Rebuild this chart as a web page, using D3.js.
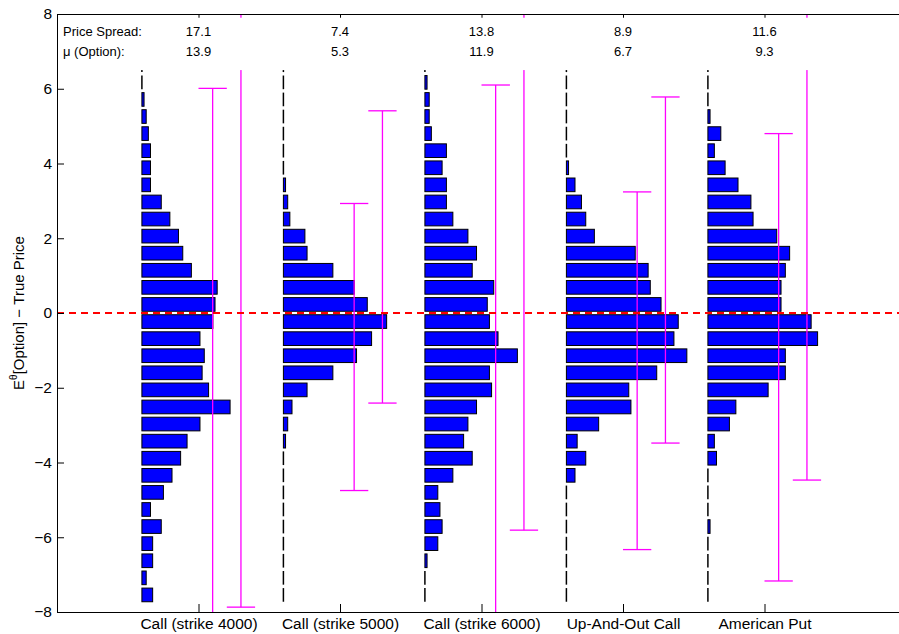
<!DOCTYPE html>
<html>
<head>
<meta charset="utf-8">
<script src="https://cdn.jsdelivr.net/npm/d3@7"></script>
<style>
  body { margin: 0; background: #fff; }
  text { font-family: 'Liberation Sans', Arial, sans-serif; }
</style>
</head>
<body>
<script>
// Categories (one histogram per option)
const groups = ['Call (strike 4000)', 'Call (strike 5000)', 'Call (strike 6000)', 'Up-And-Out Call', 'American Put']
const priceSpread = ['17.1', '7.4', '13.8', '8.9', '11.6']
const muOption = ['13.9', '5.3', '11.9', '6.7', '9.3']

// Histogram bin centers (top to bottom)
const binCenters = [6.629, 6.171, 5.714, 5.257, 4.800, 4.343, 3.886, 3.429, 2.971, 2.514,
  2.057, 1.600, 1.143, 0.686, 0.229, -0.229, -0.686, -1.143, -1.600, -2.057,
  -2.514, -2.971, -3.429, -3.886, -4.343, -4.800, -5.257, -5.714, -6.171, -6.629,
  -7.086, -7.543]
const binWidth = 0.4571

// Counts per bin for each option
const counts1 = [0, 0, 1, 2, 3, 4, 4, 4, 9, 13, 17, 19, 23, 35, 34, 33, 27, 29, 28, 31, 41, 27, 21, 18, 14, 10, 4, 9, 5, 5, 2, 5]
const counts2 = [0, 0, 0, 0, 0, 0, 0, 1, 2, 3, 10, 11, 23, 33, 39, 48, 41, 34, 23, 11, 4, 2, 1, 0, 0, 0, 0, 0, 0, 0, 0, 0]
const counts3 = [0, 1, 2, 2, 3, 10, 8, 10, 10, 13, 20, 24, 22, 32, 29, 30, 34, 43, 30, 31, 24, 20, 18, 22, 13, 6, 7, 8, 6, 1, 0, 0]
const counts4 = [0, 0, 0, 0, 0, 0, 1, 4, 7, 9, 13, 32, 38, 39, 44, 52, 50, 56, 42, 29, 30, 15, 5, 9, 4, 0, 0, 0, 0, 0, 0, 0]
const counts5 = [0, 0, 0, 1, 6, 3, 8, 14, 20, 21, 32, 38, 36, 34, 34, 48, 51, 36, 36, 28, 13, 10, 3, 4, 0, 0, 0, 1, 0, 0, 0, 0]
const allCounts = [counts1, counts2, counts3, counts4, counts5]

// Two ranges (low, high) per option, drawn as magenta error bars
const rangeA = [[-9, 6.01], [-4.75, 2.93], [-9, 6.10], [-6.33, 3.24], [-7.17, 4.80]]
const rangeB = [[-7.87, 9], [-2.41, 5.41], [-5.81, 9], [-3.48, 5.78], [-4.47, 9]]

const yTicks = [-8, -6, -4, -2, 0, 2, 4, 6, 8]

const width = 899
const height = 634

const svg = d3.select(document.body).append('svg')
  .attr('width', width)
  .attr('height', height)

const x = d3.scaleLinear().domain([0, 6]).range([57, 906])
const y = d3.scaleLinear().domain([-8, 8]).range([612, 14])
// bar length: counts -> x units
const len = d3.scaleLinear().domain([0, 100]).range([0, 1.52])

svg.append('defs').append('clipPath').attr('id', 'plot')
  .append('rect')
  .attr('x', x(0)).attr('y', y(8))
  .attr('width', x(6) - x(0)).attr('height', y(-8) - y(8))

const plot = svg.append('g').attr('clip-path', 'url(#plot)')

// Histogram bars (empty bins show as a bare edge)
allCounts.forEach((counts, gi) => {
  const base = gi + 1 - 0.4
  const bins = counts.map((c, i) => ({ c, center: binCenters[i] }))
  const g = plot.append('g')
  g.selectAll('rect')
    .data(bins.filter((d) => d.c > 0))
    .enter()
    .append('rect')
    .attr('x', x(base))
    .attr('y', (d) => y(d.center + binWidth * 0.4))
    .attr('width', (d) => x(base + len(d.c)) - x(base))
    .attr('height', (d) => y(d.center - binWidth * 0.4) - y(d.center + binWidth * 0.4))
    .attr('fill', '#0000ff')
    .attr('stroke', '#000')
    .attr('stroke-width', 1)
  g.selectAll('line')
    .data(bins.filter((d) => d.c === 0))
    .enter()
    .append('line')
    .attr('x1', x(base)).attr('x2', x(base))
    .attr('y1', (d) => y(d.center + binWidth * 0.4))
    .attr('y2', (d) => y(d.center - binWidth * 0.4))
    .attr('stroke', '#000')
    .attr('stroke-width', 1.5)
})

// Error bars
function drawRange(ranges, offset) {
  ranges.forEach((r, gi) => {
    const cx = gi + 1 + offset
    const g = plot.append('g').attr('stroke', '#ff00ff').attr('stroke-width', 1.3)
    g.append('line')
      .attr('x1', x(cx)).attr('x2', x(cx))
      .attr('y1', y(r[0])).attr('y2', y(r[1]))
    r.forEach((v) => {
      g.append('line')
        .attr('x1', x(cx - 0.1)).attr('x2', x(cx + 0.1))
        .attr('y1', y(v)).attr('y2', y(v))
    })
  })
}
drawRange(rangeA, 0.1)
drawRange(rangeB, 0.3)

// zero line
plot.append('line')
  .attr('x1', x(0)).attr('x2', x(6))
  .attr('y1', y(0)).attr('y2', y(0))
  .attr('stroke', '#ff0000')
  .attr('stroke-width', 2)
  .attr('stroke-dasharray', '7,5')

// top axis (ticks pointing in)
svg.append('g')
  .attr('transform', `translate(0,${y(8)})`)
  .call(d3.axisTop(x).tickValues([1, 2, 3, 4, 5]).tickFormat('').tickSizeInner(-8).tickSizeOuter(0))

// white box behind the summary numbers
svg.append('rect')
  .attr('x', x(0) + 1).attr('y', y(7.9))
  .attr('width', x(6) - x(0) - 2).attr('height', y(6.5) - y(7.9))
  .attr('fill', '#fff')

const info = svg.append('g').attr('font-size', 13).attr('fill', '#000')
info.append('text').attr('x', 63).attr('y', 36).text('Price Spread:')
info.append('text').attr('x', 63).attr('y', 56).text('\u03bc (Option):')
info.selectAll('.ps').data(priceSpread).enter().append('text')
  .attr('x', (d, i) => x(i + 1)).attr('y', 36)
  .attr('text-anchor', 'middle').text((d) => d)
info.selectAll('.mu').data(muOption).enter().append('text')
  .attr('x', (d, i) => x(i + 1)).attr('y', 56)
  .attr('text-anchor', 'middle').text((d) => d)

// left axis
svg.append('g')
  .attr('transform', `translate(${x(0)},0)`)
  .call(d3.axisLeft(y).tickValues(yTicks).tickSizeInner(-7).tickSizeOuter(0).tickPadding(5))

// bottom axis
svg.append('g')
  .attr('transform', `translate(0,${y(-8)})`)
  .call(d3.axisBottom(x).tickValues([1, 2, 3, 4, 5]).tickFormat((d) => groups[d - 1])
    .tickSizeInner(-8).tickSizeOuter(0).tickPadding(6))

svg.selectAll('.tick text').attr('font-size', 15.5).attr('fill', '#000')
  .attr('font-family', "'Liberation Sans', Arial, sans-serif")
svg.selectAll('.domain, .tick line').attr('stroke', '#000')

// y label
const yl = svg.append('text')
  .attr('transform', `translate(24,${y(0)}) rotate(-90)`)
  .attr('text-anchor', 'middle')
  .attr('font-size', 15)
yl.append('tspan').text('E')
yl.append('tspan').attr('font-size', 10).attr('dy', -7).text('\u03b8')
yl.append('tspan').attr('dy', 7).text('[Option] \u2212 True Price')
</script>
</body>
</html>
